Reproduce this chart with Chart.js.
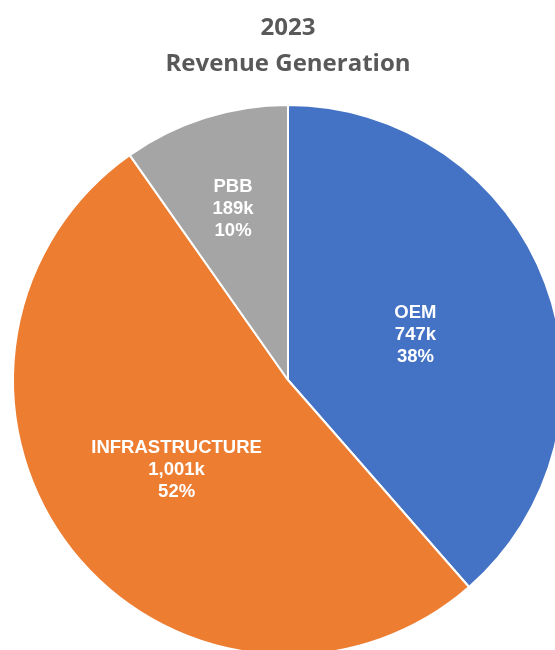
<!DOCTYPE html>
<html>
<head>
<meta charset="utf-8">
<title>2023 Revenue Generation</title>
<script src="https://cdn.jsdelivr.net/npm/chart.js@4.4.1/dist/chart.umd.min.js"></script>
<style>
  html, body { margin: 0 ; padding: 0 ; background: #ffffff ; overflow: hidden ; }
  #chartBox { position: relative ; width: 555px ; height: 650px ; overflow: hidden ; }
  #revenueChart { position: absolute ; left: 0 ; top: 0 ; width: 576px ; height: 660px ; }
</style>
</head>
<body>
<div id="chartBox">
  <canvas id="revenueChart" width="576" height="660"></canvas>
</div>
<script>
    // ---------------- Chart data -------------------------------------------
    const chartTitle  = [ '2023', 'Revenue Generation' ] ;
    const categories  = [ 'OEM', 'INFRASTRUCTURE', 'PBB' ] ;
    const revenue     = [ 747, 1001, 189 ] ;          // in thousands
    const shareLabels = [ '38%', '52%', '10%' ] ;     // as printed on the slices
    const sliceColors = [ '#4472C4', '#ED7D31', '#A5A5A5' ] ;

    // ---------------- Label placement (fraction of the radius) -------------
    const LABEL_RADIUS = [ 0.495, 0.515, 0.662 ] ;
    const LABEL_LINE_GAP = 22 ;
    const LABEL_NUDGE_Y = 2.5 ;   // 'middle' baseline sits a bit high for caps

    // -----------------------------------------------------------------------
    // --- [START] Local functions -------------------------------------------

    function formatK( value ) {
        return value.toLocaleString( 'en-US' ) + 'k' ;
    }

    // Draws "name / value / share" in the middle of every slice
    const sliceLabelPlugin = {
        id : 'sliceLabels',
        afterDatasetsDraw( chart ) {
            const ctx  = chart.ctx ;
            const meta = chart.getDatasetMeta( 0 ) ;

            ctx.save() ;
            ctx.font = 'bold 18.5px "Liberation Sans", Arial, sans-serif' ;
            ctx.fillStyle = '#ffffff' ;
            ctx.textAlign = 'center' ;
            ctx.textBaseline = 'middle' ;

            meta.data.forEach( function( arc, i ) {
                const p   = arc.getProps( [ 'x', 'y', 'startAngle', 'endAngle', 'outerRadius' ], true ) ;
                const mid = ( p.startAngle + p.endAngle ) / 2 ;
                const r   = p.outerRadius * LABEL_RADIUS[ i ] ;
                const cx  = p.x + Math.cos( mid ) * r ;
                const cy  = p.y + Math.sin( mid ) * r + LABEL_NUDGE_Y ;

                const lines = [ categories[ i ], formatK( revenue[ i ] ), shareLabels[ i ] ] ;
                lines.forEach( function( line, j ) {
                    ctx.fillText( line, cx, cy + ( j - 1 ) * LABEL_LINE_GAP ) ;
                } ) ;
            } ) ;
            ctx.restore() ;
        }
    } ;

    function drawChart() {
        const ctx = document.getElementById( 'revenueChart' ).getContext( '2d' ) ;

        new Chart( ctx, {
            type : 'pie',
            data : {
                labels : categories,
                datasets : [ {
                    data : revenue,
                    backgroundColor : sliceColors,
                    borderColor : '#ffffff',
                    borderWidth : 2
                } ]
            },
            options : {
                responsive : false,
                animation : false,
                layout : {
                    padding : { left : 12, right : 12, top : 0, bottom : 4 }
                },
                plugins : {
                    legend : { display : false },
                    tooltip : { enabled : false },
                    title : {
                        display : true,
                        text : chartTitle,
                        color : '#595959',
                        font : { family : '"Open Sans", sans-serif', size : 24, weight : 'bold', lineHeight : 1.5 },
                        padding : { top : 10, bottom : 22 }
                    }
                }
            },
            plugins : [ sliceLabelPlugin ]
        } ) ;
    }

    // --- [END] Local functions

    drawChart() ;
</script>
</body>
</html>
